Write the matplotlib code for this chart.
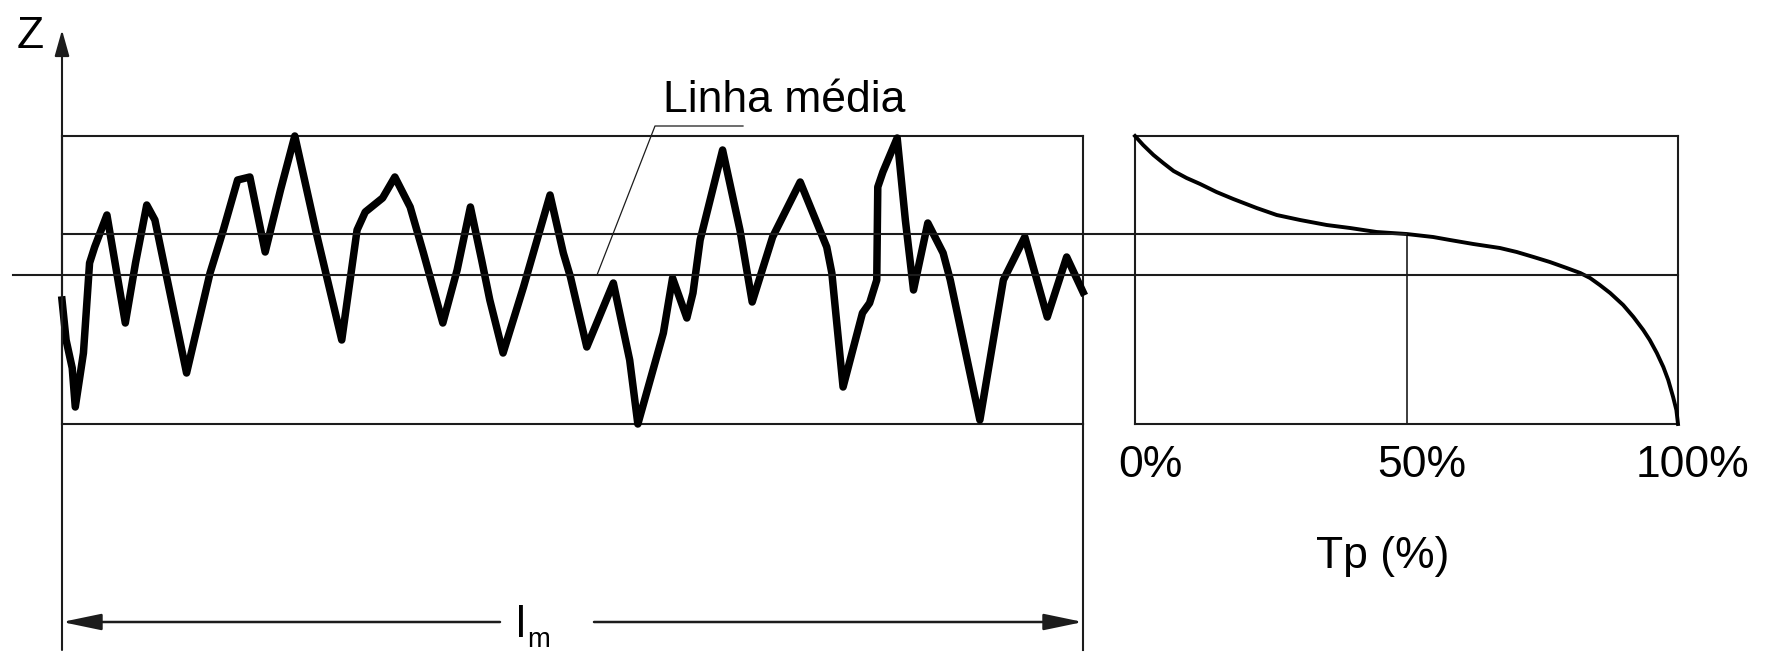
"""Perfil de rugosidade e curva de razão de apoio (Abbott-Firestone)."""

import numpy as np
import matplotlib
matplotlib.use('Agg')
import matplotlib.pyplot as plt
from matplotlib import font_manager
from matplotlib.transforms import blended_transform_factory

W, H, DPI = 1772, 654, 100

# perfil ao longo do comprimento de amostragem: x em % de l_m, z em µm
PROF_X = [0.0, 0.4, 1.0, 1.3, 2.1, 2.7, 3.2, 4.4, 6.2, 7.2, 8.3, 9.1, 12.2,
          14.5, 15.8, 17.2, 18.4, 19.9, 21.4, 22.8, 25.0, 27.4, 28.9, 29.7,
          31.4, 32.6, 34.1, 35.4, 37.3, 38.7, 40.0, 41.1, 41.9, 43.2, 45.2,
          47.8, 49.1, 49.8, 51.4, 54.0, 55.6, 56.4, 58.9, 59.8, 61.2, 61.8,
          62.5, 64.7, 66.4, 67.6, 69.6, 72.3, 74.9, 75.4, 76.5, 78.4, 79.1,
          79.8, 79.9, 80.4, 81.8, 82.6, 83.4, 84.8, 86.3, 87.0, 89.9, 92.2,
          94.3, 96.5, 98.4, 100.0]
PROF_Z = [-2.5, -6.5, -9.3, -13.2, -7.8, 1.2, 2.8, 6.0, -4.8, 1.2, 7.0, 5.5,
          -9.8, 0.2, 4.5, 9.5, 9.8, 2.3, 8.5, 13.9, 3.8, -6.5, 4.5, 6.3, 7.7,
          9.8, 6.8, 2.2, -4.8, 0.5, 6.8, 1.5, -2.5, -7.8, -1.2, 8.0, 2.2,
          -0.2, -7.2, -0.8, -8.5, -14.9, -5.8, -0.3, -4.3, -1.8, 3.5, 12.5,
          4.5, -2.7, 3.8, 9.3, 2.8, 0.2, -11.2, -3.8, -2.8, -0.5, 8.8, 10.3,
          13.7, 5.5, -1.5, 5.2, 2.2, -0.5, -14.5, -0.5, 3.8, -4.2, 1.8, -1.7]

# curva de razão de apoio: Tp (%) contra a altura z
TP = [0.0, 1.5, 3.4, 5.2, 7.1, 9.5, 12.0, 15.0, 18.1, 22.4, 26.1, 30.4,
      35.3, 39.6, 44.5, 50.0, 54.9, 58.0, 62.3, 67.2, 70.3, 73.4, 76.4,
      79.5, 82.0, 83.8, 85.6, 87.5, 89.9, 91.8, 93.6, 94.8, 96.1, 97.3,
      98.2, 99.1, 99.7, 100.0]
TP_Z = [13.9, 13.0, 12.0, 11.2, 10.4, 9.7, 9.1, 8.3, 7.6, 6.7, 6.0, 5.5,
        5.0, 4.7, 4.3, 4.1, 3.8, 3.5, 3.1, 2.7, 2.3, 1.8, 1.3, 0.7, 0.2,
        -0.3, -1.0, -1.8, -3.0, -4.2, -5.5, -6.5, -7.8, -9.2, -10.5, -12.2,
        -13.5, -14.9]

TICKS = [0, 50, 100]
TICK_LABELS = ['0%', '50%', '100%']

# posições em pixels, origem no canto superior esquerdo
BOX_L, BOX_R = 62, 1083
BRG_L, BRG_R = 1135, 1678
TOP, BOT = 136, 424
LINE = '#1c1c1c'

names = {f.name for f in font_manager.fontManager.ttflist}
FONT = 'Liberation Sans Narrow' if 'Liberation Sans Narrow' in names else 'Liberation Sans'
FS = 35 if FONT.endswith('Narrow') else 32
plt.rcParams['font.family'] = FONT


def frame(left, right):
    return [left / W, 1 - BOT / H, (right - left) / W, (BOT - TOP) / H]


fig = plt.figure(figsize=(W / DPI, H / DPI), dpi=DPI)
zmin, zmax = min(PROF_Z), max(PROF_Z)

ax = fig.add_axes(frame(BOX_L, BOX_R))
ax.plot(PROF_X, PROF_Z, color='black', lw=5.4, solid_joinstyle='round',
        clip_on=False, zorder=3)
ax.set_xlim(0, 100)
ax.set_ylim(zmin, zmax)

rax = fig.add_axes(frame(BRG_L, BRG_R))
rax.plot(TP, TP_Z, color='black', lw=2.8, solid_joinstyle='round',
         clip_on=False, zorder=3)
rax.set_xlim(0, 100)
rax.set_ylim(zmin, zmax)
z50 = np.interp(50, TP, TP_Z)
rax.plot([50, 50], [zmin, z50], color=LINE, lw=1.2)

for a in (ax, rax):
    a.set_xticks([])
    a.set_yticks([])
    a.patch.set_visible(False)
    for s in a.spines.values():
        s.set_linewidth(1.5)
        s.set_color(LINE)

# camada em pixels para linhas de referência, cotas e textos
ov = fig.add_axes([0, 0, 1, 1])
ov.set_xlim(0, W)
ov.set_ylim(H, 0)
ov.axis('off')
ov.patch.set_visible(False)
zt = blended_transform_factory(ov.transData, ax.transData)

# linha média e nível de 50 %
ov.plot([13, BRG_R], [0, 0], transform=zt, color=LINE, lw=1.5)
ov.plot([BOX_L, (BRG_L + BRG_R) / 2], [z50, z50], transform=zt, color=LINE, lw=1.5)

# eixo Z e linhas de chamada da cota
arrow = dict(color=LINE, shrinkA=0, shrinkB=0, mutation_scale=10)
ov.annotate('', xy=(BOX_L, 30), xytext=(BOX_L, 650),
            arrowprops=dict(arrowstyle='-|>,head_length=1.6,head_width=0.45',
                            lw=1.5, **arrow))
ov.plot([BOX_R, BOX_R], [BOT, 650], color=LINE, lw=1.5)

# cota l_m
for x0, x1 in [(500, BOX_L), (594, BOX_R)]:
    ov.annotate('', xy=(x1, 622), xytext=(x0, 622),
                arrowprops=dict(arrowstyle='-|>,head_length=2.4,head_width=0.5',
                                lw=1.8, **arrow))
ov.text(516, 637, 'l', fontsize=FS, ha='left', va='baseline')
ov.text(527, 647, 'm', fontsize=FS * 0.62, ha='left', va='baseline')

# chamada da linha média
ov.plot([597, 655, 743], [275, 126, 126], color=LINE, lw=0.9)
ov.text(663, 112, 'Linha média', fontsize=FS, ha='left', va='baseline')

ov.text(17, 48, 'Z', fontsize=FS, ha='left', va='baseline')

for t, lbl in zip(TICKS, TICK_LABELS):
    px = BRG_L + t / 100 * (BRG_R - BRG_L) + 15
    ov.text(px, 477, lbl, fontsize=FS, ha='center', va='baseline')
ov.text(1383, 568, 'Tp (%)', fontsize=FS, ha='center', va='baseline')

fig.savefig('out.png', dpi=DPI, facecolor='white')
